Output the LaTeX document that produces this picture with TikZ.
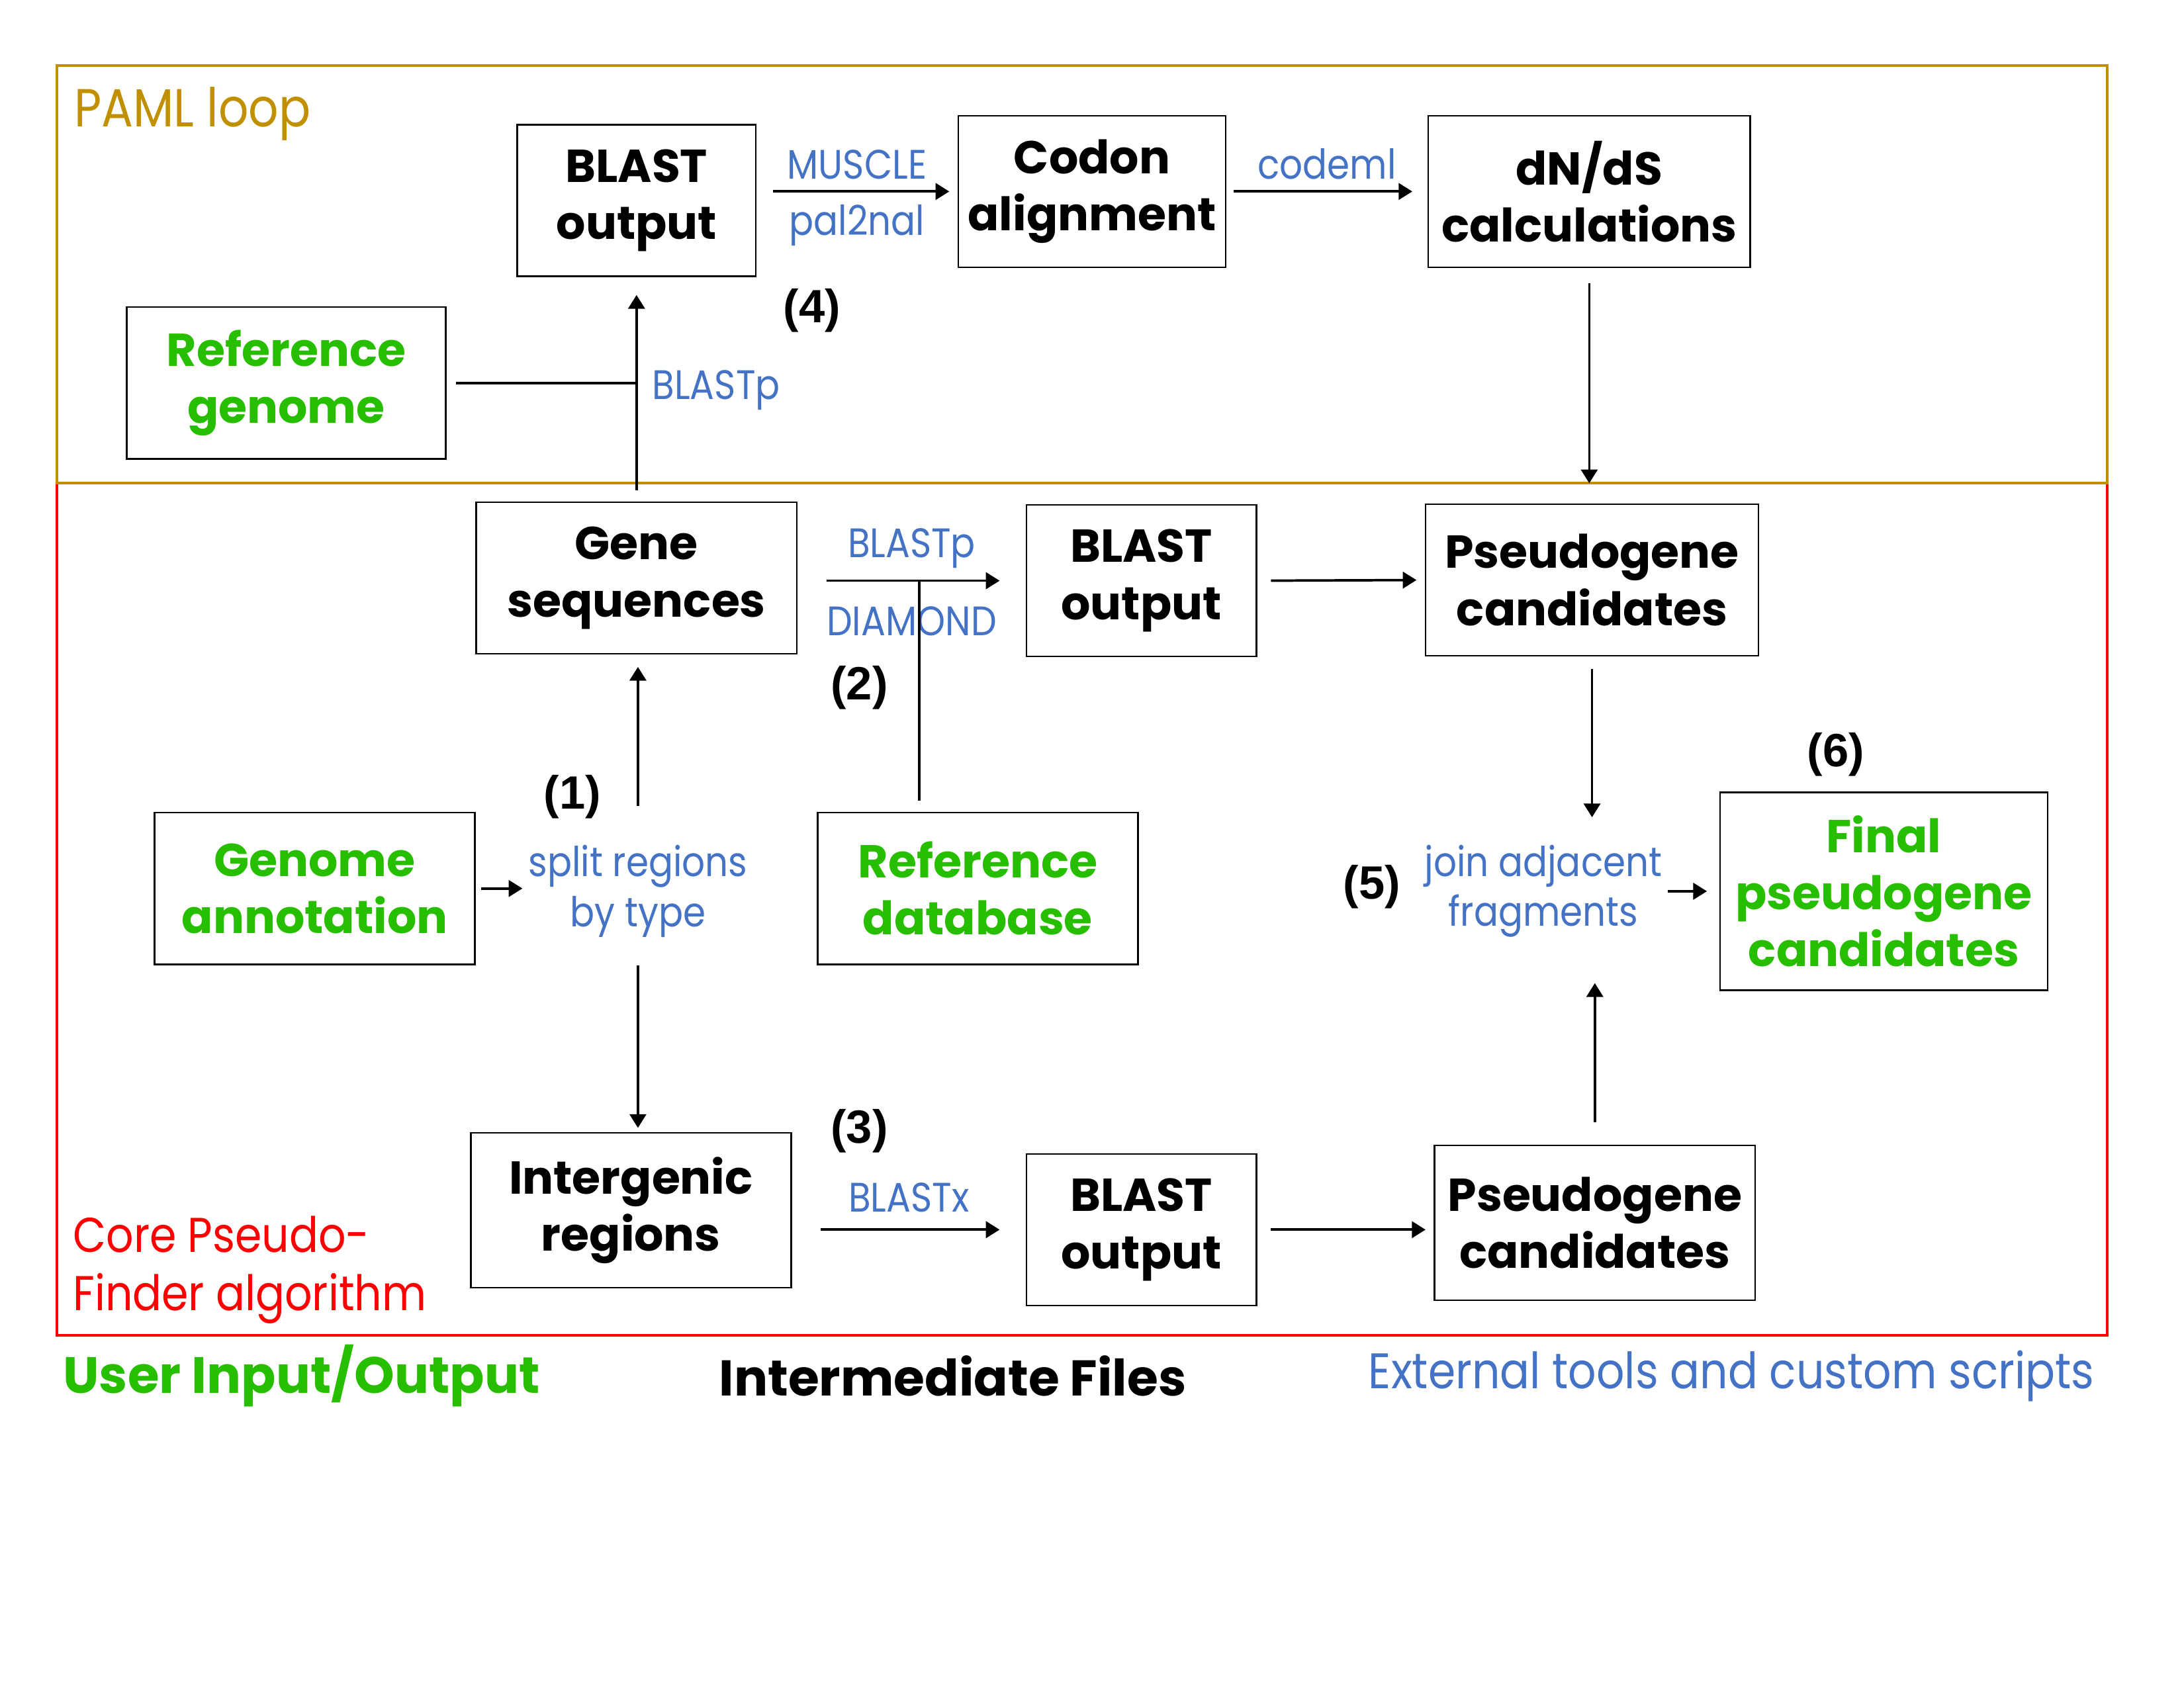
\documentclass[tikz,border=0pt]{standalone}
\usepackage{fontspec}
\setmainfont{Poppins}
\newfontfamily\toolfont[FakeStretch=0.88]{Poppins}
\newfontfamily\stepfont{Liberation Sans}
\usetikzlibrary{arrows.meta}
\definecolor{pamlgold}{RGB}{192,144,0}
\definecolor{toolblue}{RGB}{68,114,196}
\definecolor{usergreen}{RGB}{40,190,0}

\begin{document}
\begin{tikzpicture}[x=0.017819cm, y=-0.017819cm,
		file/.style={draw, line width=0.6pt, align=center, minimum width=4.1cm, minimum height=1.94cm, font=\fontsize{16.8}{20.8}\selectfont\bfseries},
		userfile/.style={file, text=usergreen},
		tool/.style={text=toolblue, align=center, inner sep=2pt, font=\fontsize{15}{18.2}\toolfont},
		stepno/.style={inner sep=0pt, font=\fontsize{17}{19}\stepfont\bfseries},
		flow/.style={-{Triangle[length=5pt,width=6pt]}, line width=0.9pt},
		link/.style={line width=0.9pt},
	]
	\useasboundingbox (0,0) rectangle (1568,1212);

	% frames of the two parts
	\coordinate (coreSE) at (1513,959);
	\coordinate (pamlNW) at (41,47);
	\coordinate (pamlSE) at (1513,347);
	\draw[red, line width=1pt] (pamlNW |- pamlSE) rectangle (coreSE);
	\draw[pamlgold, line width=1pt] (pamlNW) rectangle (pamlSE);
	\node[inner sep=0pt, anchor=west, text=pamlgold, font=\fontsize{19.5}{21}\toolfont] (paml) at (53,82) {PAML loop};
	\node[inner sep=0pt, anchor=west, align=left, text=red, font=\fontsize{17.8}{21.3}\toolfont] (core) at (52,912) {Core Pseudo-\\Finder algorithm};

	% PAML loop
	\node[file, minimum width=3.05cm] (blastA) at (457,144) {BLAST\\output};
	\node[file, minimum width=3.42cm] (codon) at (784,137.5) {Codon\\alignment};
	\node[file, minimum width=4.12cm] (dnds) at (1141,137.5) {dN/dS\\calculations};
	\node[userfile, minimum width=4.08cm] (refgenome) at (205.5,275) {Reference\\genome};
	\node[stepno] (step4) at (583,223) {(4)};

	% core algorithm
	\node[file] (geneseq) at (457,415) {Gene\\sequences};
	\node[file, minimum width=2.94cm] (blastB) at (819.5,417) {BLAST\\output};
	\node[file, minimum width=4.26cm] (pseudoB) at (1143,416.5) {Pseudogene\\candidates};
	\node[userfile] (annot) at (226,638) {Genome\\annotation};
	\node[tool, minimum height=1.88cm] (split) at (458,640) {split regions\\by type};
	\node[userfile] (refdb) at (702,638) {Reference\\database};
	\node[tool, minimum height=1.88cm] (join) at (1108,640) {join adjacent\\fragments};
	\node[userfile, minimum width=4.19cm, minimum height=2.53cm] (final) at (1352.5,640) {Final\\pseudogene\\candidates};
	\node[file, minimum height=1.98cm] (intergenic) at (453,869) {Intergenic\\regions};
	\node[file, minimum width=2.94cm] (blastC) at (819.5,883) {BLAST\\output};
	\node[file, minimum height=1.98cm] (pseudoC) at (1145,878) {Pseudogene\\candidates};
	\coordinate (tap) at (660,417);

	\node[stepno] (step1) at (411,572) {(1)};
	\node[stepno] (step2) at (617,494) {(2)};
	\node[stepno] (step3) at (617,812) {(3)};
	\node[stepno] (step5) at (985,637) {(5)};
	\node[stepno] (step6) at (1318,542) {(6)};

	% legend
	\node[inner sep=0pt, anchor=west, text=usergreen, font=\fontsize{18.6}{21}\selectfont\bfseries] (legUser) at (45,988) {User Input/Output};
	\node[inner sep=0pt, font=\fontsize{18.3}{21}\selectfont\bfseries] (legFiles) at (684,988) {Intermediate Files};
	\node[inner sep=0pt, anchor=east, text=toolblue, font=\fontsize{18.2}{21}\toolfont] (legTools) at (1504,988) {External tools and custom scripts};

	% connectors
	\draw[flow, shorten <=6pt, shorten >=3pt] (blastA.east |- codon.west) -- node[tool, above=2pt] {MUSCLE} node[tool, below=2.5pt] {pal2nal} (codon.west);
	\draw[flow, shorten <=2.5pt, shorten >=5.5pt] (codon.east) -- node[tool, above=2pt] {codeml} (dnds.west);
	\draw[flow, shorten <=5.5pt] (dnds.south) -- (dnds.south |- pamlSE);
	\draw[flow, shorten <=4pt, shorten >=6.5pt] (geneseq.north) -- (blastA.south);
	\draw[link, shorten <=3.5pt] (refgenome.east) -- (refgenome.east -| blastA.south);
	\node[tool, anchor=west] (blastp) at (464,280) {BLASTp};

	\draw[flow, shorten <=10.5pt, shorten >=9.5pt] (geneseq.east |- blastB.west) -- node[tool, above=2pt] {BLASTp} node[tool, below=7pt] {DIAMOND} (blastB.west);
	\draw[link, shorten <=4pt] (tap |- refdb.north) -- (tap);
	\draw[flow, shorten <=5pt, shorten >=3pt] (blastB.east) -- (pseudoB.west);
	\draw[flow, shorten <=2pt] (annot.east) -- (annot.east -| split.west);
	\draw[flow, shorten <=4pt, shorten >=4.5pt] (split.north) -- (split.north |- geneseq.south);
	\draw[flow, shorten >=1.5pt] (split.south) -- (split.south |- intergenic.north);
	\draw[flow, shorten <=10.5pt, shorten >=9.5pt] (intergenic.east |- blastC.west) -- node[tool, above=4pt] {BLASTx} (blastC.west);
	\draw[flow, shorten <=5pt, shorten >=3pt] (blastC.east) -- (blastC.east -| pseudoC.west);
	\draw[flow, shorten <=4.5pt] (pseudoB.south) -- (pseudoB.south |- join.north);
	\draw[flow, shorten <=8pt, shorten >=6.5pt] (pseudoC.north) -- (pseudoC.north |- join.south);
	\draw[flow, shorten >=4.5pt] (join.east) -- (join.east -| final.west);
\end{tikzpicture}
\end{document}
